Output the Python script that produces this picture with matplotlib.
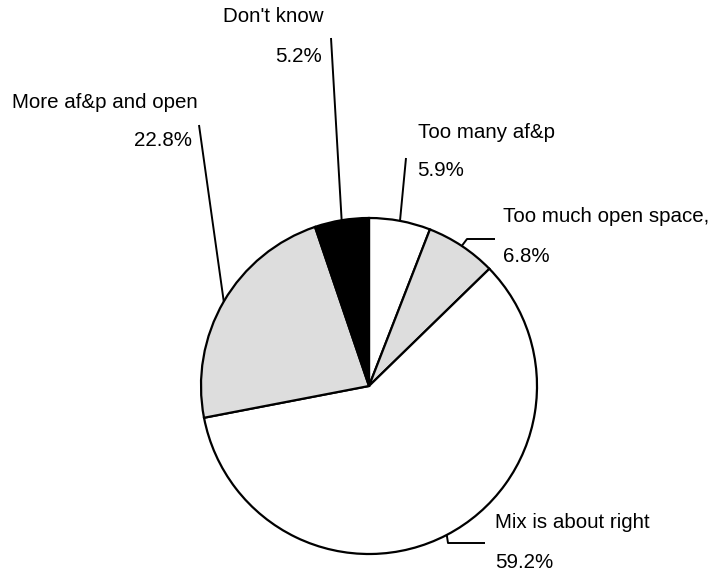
import numpy as np
import matplotlib.pyplot as plt

plt.rcParams['font.family'] = ['Liberation Sans', 'DejaVu Sans']

labels = ['Too many af&p', 'Too much open space,', 'Mix is about right',
          'More af&p and open', "Don't know"]
shares = [5.9, 6.8, 59.2, 22.8, 5.2]
colors = ['white', '#dddddd', 'white', '#dddddd', 'black']

W, H = 728, 575
fig = plt.figure(figsize=(W / 100, H / 100), dpi=100)
ax = fig.add_axes([0, 0, 1, 1])
ax.set_xlim(0, W)
ax.set_ylim(0, H)
ax.set_aspect('equal')
ax.axis('off')

cx, cy, r = 369, H - 386, 168
wedges, _ = ax.pie(shares, colors=colors, startangle=90, counterclock=False,
                   center=(cx, cy), radius=r, frame=True,
                   wedgeprops=dict(edgecolor='black', linewidth=1.6))
ax.set_xlim(0, W)
ax.set_ylim(0, H)
ax.axis('off')

# leader line path after the point on the rim, then label anchors (pixel coords, y down)
leaders = [
    [(406, 158)],
    [(467, 239), (495, 239)],
    [(448, 543), (485, 543)],
    [(199, 125)],
    [(331, 38)],
]
name_pos = [(418, 133, 'left'), (503, 216, 'left'), (495, 523, 'left'),
            (12, 102, 'left'), (223, 17, 'left')]
pct_pos = [(417, 171, 'left'), (503, 257, 'left'), (495, 562, 'left'),
           (192, 141, 'right'), (322, 57, 'right')]

for w, lab, pct, path, npos, ppos in zip(wedges, labels, shares, leaders,
                                         name_pos, pct_pos):
    mid = np.deg2rad((w.theta1 + w.theta2) / 2)
    xs = [cx + r * np.cos(mid)] + [p[0] for p in path]
    ys = [cy + r * np.sin(mid)] + [H - p[1] for p in path]
    ax.plot(xs, ys, color='black', lw=1.4, solid_capstyle='butt')
    ax.text(npos[0], H - npos[1], lab, ha=npos[2], va='center', fontsize=14.8)
    ax.text(ppos[0], H - ppos[1], f'{pct:.1f}%', ha=ppos[2], va='center',
            fontsize=14.8)

fig.savefig('out.png', dpi=100)
